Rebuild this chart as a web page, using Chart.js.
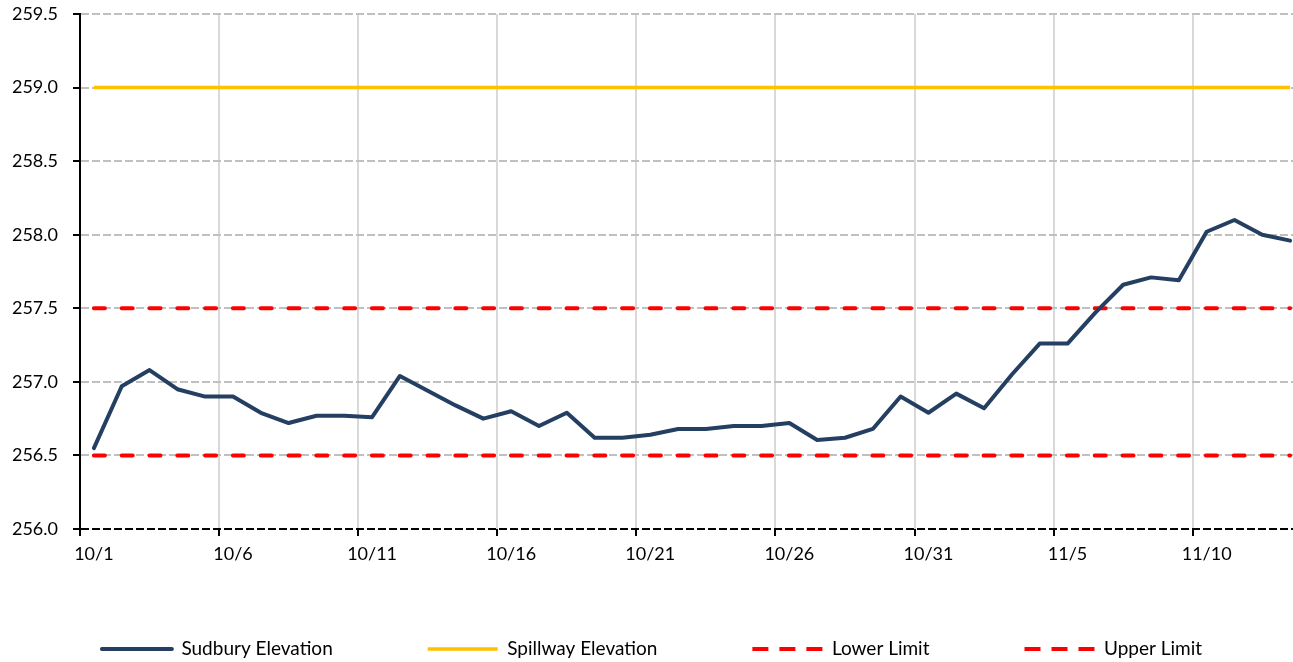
<!DOCTYPE html>
<html>
<head>
<meta charset="utf-8">
<script src="https://cdn.jsdelivr.net/npm/chart.js@4.4.1/dist/chart.umd.min.js"></script>
<style>
  html, body { margin: 0; padding: 0; background: #fff; overflow: hidden; }
</style>
</head>
<body>
<canvas id="grafica" width="1304" height="689"></canvas>
<script>
// Fechas (eje X)
const dias = [
  '10/1','10/2','10/3','10/4','10/5','10/6','10/7','10/8','10/9','10/10',
  '10/11','10/12','10/13','10/14','10/15','10/16','10/17','10/18','10/19','10/20',
  '10/21','10/22','10/23','10/24','10/25','10/26','10/27','10/28','10/29','10/30',
  '10/31','11/1','11/2','11/3','11/4','11/5','11/6','11/7','11/8','11/9',
  '11/10','11/11','11/12','11/13'
];

// Elevación de Sudbury
const elevSudbury = [
  256.55, 256.97, 257.08, 256.95, 256.90, 256.90, 256.79, 256.72, 256.77, 256.77,
  256.76, 257.04, 256.94, 256.84, 256.75, 256.80, 256.70, 256.79, 256.62, 256.62,
  256.64, 256.68, 256.68, 256.70, 256.70, 256.72, 256.605, 256.62, 256.68, 256.90,
  256.79, 256.92, 256.82, 257.05, 257.26, 257.26, 257.47, 257.66, 257.71, 257.69,
  258.02, 258.10, 258.00, 257.96
];

const nivelVertedero = 259.0;
const limiteInferior = 256.5;
const limiteSuperior = 257.5;

const ejeYMin = 256.0;
const ejeYMax = 259.5;
const ejeYPaso = 0.5;

const fuente = { family: 'Lato', size: 18 };
const fuenteLeyenda = { family: 'Lato', size: 19 };

// guiones de la leyenda (el trazo del rectangulo va y vuelve, por eso es simetrico)
const guionLeyenda = [16, 11, 16, 11, 32, 11, 16, 11, 16, 11];

// La leyenda necesita mucho espacio horizontal entre elementos; se sube despues del layout
const subirLeyenda = {
  id: 'subirLeyenda',
  afterLayout(chart) {
    const l = chart.legend;
    l.top -= 20.5;
    l.bottom -= 20.5;
  }
};

const ctx = document.getElementById('grafica').getContext('2d');

new Chart(ctx, {
  type: 'line',
  data: {
    labels: dias,
    datasets: [
      {
        label: 'Sudbury Elevation',
        data: elevSudbury,
        borderColor: '#243f61',
        backgroundColor: '#243f61',
        borderWidth: 4,
        pointRadius: 0,
        borderJoinStyle: 'round',
        borderCapStyle: 'round'
      },
      {
        label: 'Spillway Elevation',
        data: dias.map(() => nivelVertedero),
        borderColor: '#ffc000',
        backgroundColor: '#ffc000',
        borderWidth: 3.5,
        pointRadius: 0
      },
      {
        label: 'Lower Limit',
        data: dias.map(() => limiteInferior),
        borderColor: '#ff0000',
        backgroundColor: '#ff0000',
        borderWidth: 4,
        borderDash: [11, 16.8],
        borderCapStyle: 'round',
        pointRadius: 0
      },
      {
        label: 'Upper Limit',
        data: dias.map(() => limiteSuperior),
        borderColor: '#ff0000',
        backgroundColor: '#ff0000',
        borderWidth: 4,
        borderDash: [11, 16.8],
        borderCapStyle: 'round',
        pointRadius: 0
      }
    ]
  },
  plugins: [subirLeyenda],
  options: {
    responsive: false,
    animation: false,
    layout: { padding: { top: 14, left: 0, right: 0, bottom: 0 } },
    plugins: {
      tooltip: { enabled: false },
      legend: {
        position: 'bottom',
        labels: {
          boxWidth: 70,
          boxHeight: 0,
          padding: 95,
          color: '#000',
          font: fuenteLeyenda,
          generateLabels: chart => {
            const items = Chart.defaults.plugins.legend.labels.generateLabels(chart);
            items.forEach(it => {
              if (it.lineDash && it.lineDash.length) {
                it.lineDash = guionLeyenda;
                it.lineCap = 'butt';
              }
            });
            return items;
          }
        }
      }
    },
    scales: {
      x: {
        type: 'category',
        offset: true,
        grid: {
          offset: true,
          color: c => c.index % 5 === 0 ? '#d9d9d9' : 'transparent',
          lineWidth: 2,
          tickColor: c => c.index % 5 === 0 ? '#000' : 'transparent',
          tickLength: 7,
          tickWidth: 2
        },
        border: { display: false },
        ticks: {
          autoSkip: false,
          maxRotation: 0,
          padding: 7,
          color: '#000',
          font: fuente,
          callback: (v, i) => i % 5 === 0 ? dias[i] : ''
        },
        afterFit: s => { s.height = 36; }
      },
      y: {
        min: ejeYMin,
        max: ejeYMax,
        ticks: {
          stepSize: ejeYPaso,
          padding: 15,
          color: '#000',
          font: fuente,
          callback: v => Number(v).toFixed(1)
        },
        grid: {
          color: c => c.index === 0 ? '#000' : '#c0c0c0',
          lineWidth: 2,
          tickColor: '#000',
          tickLength: 7,
          tickWidth: 2
        },
        border: { display: true, color: '#000', width: 2, dash: [8, 3] },
        afterFit: s => { s.width = 80; s.paddingTop = 0; }
      }
    }
  }
});
</script>
</body>
</html>
